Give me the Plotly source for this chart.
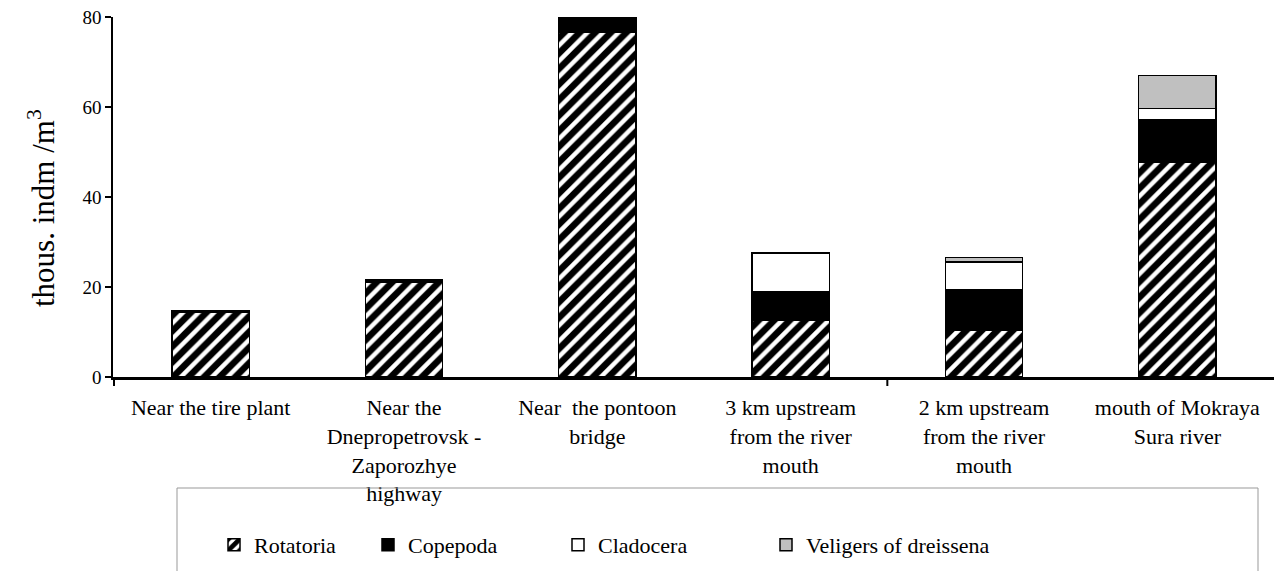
import plotly.graph_objects as go

categories = [
    "Near the tire plant",
    "Near the<br>Dnepropetrovsk -<br>Zaporozhye<br>highway",
    "Near  the pontoon<br>bridge",
    "3 km upstream<br>from the river<br>mouth",
    "2 km upstream<br>from the river<br>mouth",
    "mouth of Mokraya<br>Sura river",
]
rotatoria = [14.3, 21.0, 76.7, 12.7, 10.3, 47.8]
copepoda = [0.4, 0.7, 3.3, 6.3, 9.2, 9.4]
cladocera = [0, 0, 0, 8.6, 6.1, 2.5]
veligers = [0, 0, 0, 0, 1.0, 7.3]
y_ticks = [0, 20, 40, 60, 80]

FONT = "Liberation Serif"
line = dict(color="black", width=1.5)

fig = go.Figure()
fig.add_trace(go.Bar(
    x=categories, y=rotatoria, name="Rotatoria", legend="legend",
    marker=dict(color="white", line=line,
                pattern=dict(shape="/", fgcolor="#000000", bgcolor="white", fgopacity=1,
                             size=11, solidity=0.6)),
))
fig.add_trace(go.Bar(x=categories, y=copepoda, name="Copepoda", legend="legend2",
                     marker=dict(color="black", line=line)))
fig.add_trace(go.Bar(x=categories, y=cladocera, name="Cladocera", legend="legend3",
                     marker=dict(color="white", line=line)))
fig.add_trace(go.Bar(x=categories, y=veligers, name="Veligers of dreissena", legend="legend4",
                     marker=dict(color="#c0c0c0", line=line)))

W, H = 1278, 571
ml, mr, mt, mb = 113, 4, 17, 194
pw = W - ml - mr
ph = H - mt - mb

def px_to_paper_x(px):
    return (px - ml) / pw

def px_to_paper_y(py):
    return (H - mb - py) / ph

leg_common = dict(orientation="h", bgcolor="rgba(0,0,0,0)", borderwidth=0,
                  font=dict(family=FONT, size=22, color="black"),
                  xanchor="left", yanchor="middle", y=px_to_paper_y(545),
                  itemclick=False)
starts = [214, 368, 558, 766]
legends = {}
for i, s in enumerate(starts):
    key = "legend" if i == 0 else f"legend{i+1}"
    legends[key] = dict(leg_common, x=px_to_paper_x(s))

fig.update_layout(
    width=W, height=H,
    margin=dict(l=ml, r=mr, t=mt, b=mb),
    barmode="stack", bargap=0.6,
    plot_bgcolor="white", paper_bgcolor="white",
    font=dict(family=FONT, color="black"),
    showlegend=True,
    **legends,
)
fig.update_xaxes(
    showline=True, linecolor="black", linewidth=3,
    ticks="", tickfont=dict(family=FONT, size=22, color="black"),
    ticklabelstandoff=9, showgrid=False, fixedrange=True,
)
fig.update_yaxes(
    range=[0, 80], tickvals=y_ticks, showline=True, linecolor="black", linewidth=1.5,
    ticks="outside", ticklen=6, tickwidth=1.5, tickcolor="black",
    tickfont=dict(family=FONT, size=19, color="black"),
    showgrid=False, zeroline=False, fixedrange=True,
)

# y-axis title
fig.add_annotation(text="thous. indm /m<sup>3</sup>", textangle=-90,
                   xref="paper", yref="paper", x=px_to_paper_x(41), y=px_to_paper_y(208),
                   xanchor="center", yanchor="middle", showarrow=False,
                   font=dict(family=FONT, size=31, color="black"))

# tick marks below the category axis
for xv in [-0.5, 3.5]:
    fig.add_shape(type="line", xref="x", yref="paper", x0=xv, x1=xv, y0=0, y1=-0.025,
                  line=dict(color="black", width=2))

# legend frame
fig.add_shape(type="rect", xref="paper", yref="paper",
              x0=px_to_paper_x(177), x1=px_to_paper_x(1258),
              y0=px_to_paper_y(600), y1=px_to_paper_y(488),
              line=dict(color="#999999", width=1), fillcolor="rgba(0,0,0,0)")

fig.write_html("out.html", config={"displayModeBar": False},
               post_script="document.body.style.margin='0';")
